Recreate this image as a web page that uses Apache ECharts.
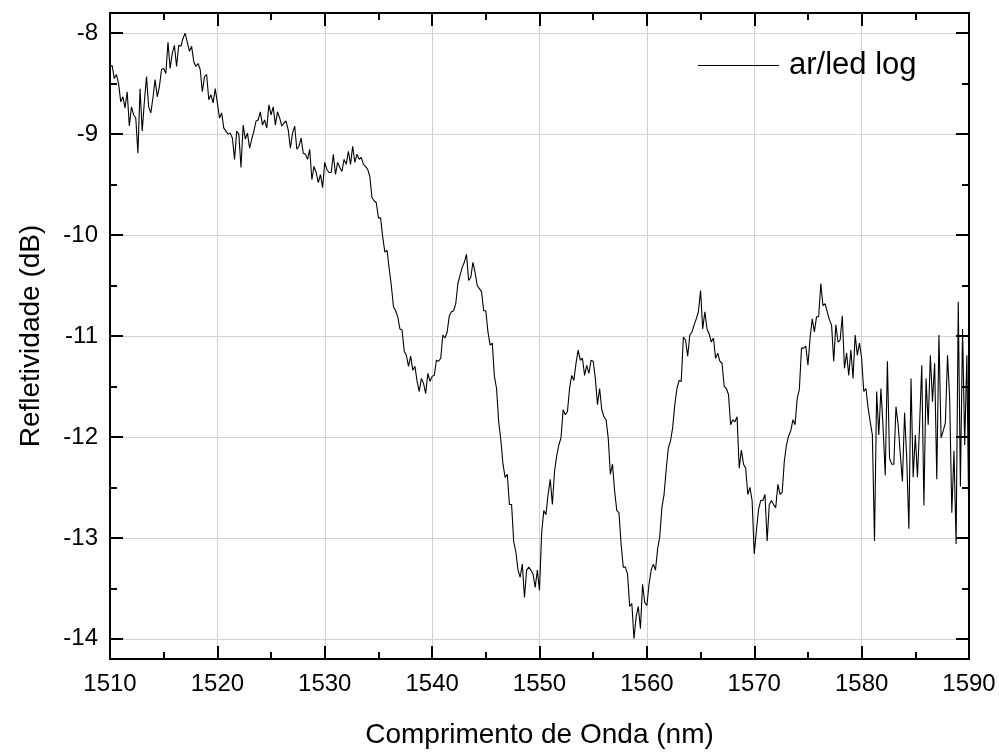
<!DOCTYPE html>
<html><head><meta charset="utf-8">
<script src="https://cdn.jsdelivr.net/npm/echarts@6/dist/echarts.min.js"></script>
<style>html,body{margin:0;padding:0;background:#fff;overflow:hidden}#c{width:999px;height:754px}</style>
</head><body><div id="c"></div>
<script>
const seriesName = 'ar/led log';
const xTitle = 'Comprimento de Onda (nm)';
const yTitle = 'Refletividade (dB)';
const wavelengthStart = 1510;
const wavelengthStep = 0.2;
const xTicks = [1510, 1520, 1530, 1540, 1550, 1560, 1570, 1580, 1590];
const yMajorTicks = [-14, -13, -12, -11, -10, -9, -8];
const yMinorTicks = [-13.5, -12.5, -11.5, -10.5, -9.5, -8.5];

// reflectivity (dB), sampled every 0.2 nm, grouped by 10 nm
const seg1510 = [-8.33,-8.32,-8.45,-8.41,-8.50,-8.68,-8.63,-8.74,-8.58,-8.92,-8.73,-8.81,-8.84,-9.19,-8.55,-8.97,-8.68,-8.43,-8.73,-8.79,-8.64,-8.46,-8.63,-8.53,-8.36,-8.35,-8.40,-8.09,-8.35,-8.20,-8.12,-8.33,-8.12,-8.13,-8.05,-8.00,-8.09,-8.18,-8.13,-8.28,-8.33,-8.30,-8.36,-8.58,-8.43,-8.41,-8.66,-8.61,-8.69,-8.55];
const seg1520 = [-8.69,-8.84,-8.79,-8.94,-8.97,-9.00,-8.99,-9.04,-9.25,-8.97,-9.00,-9.33,-8.91,-9.05,-8.99,-9.14,-9.05,-8.97,-8.87,-8.86,-8.78,-8.91,-8.86,-8.94,-8.71,-8.81,-8.73,-8.91,-8.78,-8.84,-8.92,-8.89,-8.87,-8.96,-9.14,-8.99,-8.92,-9.15,-9.12,-9.04,-9.19,-9.20,-9.25,-9.15,-9.45,-9.32,-9.38,-9.48,-9.40,-9.53];
const seg1530 = [-9.28,-9.35,-9.38,-9.38,-9.20,-9.40,-9.28,-9.33,-9.37,-9.25,-9.30,-9.17,-9.30,-9.12,-9.28,-9.20,-9.25,-9.23,-9.30,-9.32,-9.35,-9.42,-9.63,-9.66,-9.68,-9.83,-9.83,-10.02,-10.17,-10.15,-10.33,-10.50,-10.71,-10.75,-10.81,-10.93,-10.94,-11.15,-11.19,-11.30,-11.20,-11.34,-11.30,-11.45,-11.55,-11.42,-11.47,-11.57,-11.37,-11.45];
const seg1540 = [-11.40,-11.39,-11.24,-11.25,-11.22,-10.99,-11.02,-10.96,-10.80,-10.76,-10.75,-10.68,-10.48,-10.40,-10.32,-10.27,-10.19,-10.45,-10.42,-10.27,-10.37,-10.50,-10.53,-10.56,-10.75,-10.75,-10.96,-11.09,-11.07,-11.40,-11.52,-11.85,-12.03,-12.27,-12.40,-12.37,-12.67,-12.67,-13.04,-13.14,-13.32,-13.39,-13.26,-13.59,-13.32,-13.29,-13.32,-13.36,-13.49,-13.32];
const seg1550 = [-13.52,-12.95,-12.73,-12.77,-12.57,-12.42,-12.67,-12.34,-12.19,-12.08,-12.01,-11.73,-11.78,-11.75,-11.52,-11.39,-11.44,-11.27,-11.14,-11.24,-11.22,-11.39,-11.29,-11.37,-11.24,-11.25,-11.42,-11.68,-11.52,-11.73,-11.80,-11.83,-12.01,-12.37,-12.27,-12.54,-12.73,-12.75,-13.06,-13.29,-13.29,-13.36,-13.68,-13.65,-14.00,-13.78,-13.68,-13.90,-13.46,-13.64];
const seg1560 = [-13.67,-13.46,-13.32,-13.26,-13.32,-13.11,-12.99,-12.70,-12.57,-12.32,-12.11,-12.04,-11.91,-11.68,-11.52,-11.44,-11.45,-11.01,-11.04,-11.20,-10.99,-10.96,-10.89,-10.83,-10.76,-10.55,-10.93,-10.76,-10.93,-10.98,-11.06,-11.02,-11.22,-11.17,-11.25,-11.27,-11.50,-11.52,-11.58,-11.88,-11.83,-11.85,-11.80,-12.31,-12.13,-12.27,-12.31,-12.57,-12.50,-12.63];
const seg1570 = [-13.16,-12.93,-12.72,-12.63,-12.63,-12.57,-13.03,-12.67,-12.63,-12.67,-12.70,-12.47,-12.57,-12.55,-12.24,-12.08,-11.99,-11.94,-11.83,-11.88,-11.62,-11.53,-11.12,-11.12,-11.10,-11.29,-11.02,-10.83,-10.96,-10.81,-10.81,-10.48,-10.70,-10.68,-10.76,-10.84,-10.89,-11.25,-10.89,-11.06,-11.04,-10.80,-11.32,-11.17,-11.39,-11.14,-11.42,-10.99,-11.19,-11.07];
const seg1580 = [-11.22,-11.55,-11.52,-11.71,-11.85,-11.98,-13.03,-11.55,-11.98,-11.52,-11.91,-12.38,-11.25,-12.21,-12.27,-12.27,-11.70,-11.88,-12.17,-12.44,-11.76,-12.21,-12.91,-11.42,-12.40,-11.98,-12.40,-11.88,-11.29,-12.68,-11.42,-11.88,-11.19,-11.65,-11.27,-12.42,-10.99,-12.01,-11.94,-11.86,-11.19,-11.62,-12.75,-12.14,-13.06,-10.66,-12.49,-10.93,-12.08,-11.19,-12.99];

const reflectivity = [].concat(seg1510, seg1520, seg1530, seg1540, seg1550, seg1560, seg1570, seg1580);
const points = reflectivity.map((v, i) => [+(wavelengthStart + i * wavelengthStep).toFixed(2), v]);

const font = '"Liberation Sans", Arial, Helvetica, sans-serif';
const black = '#000';
const gridColor = '#d2d2d2';
const xMin = xTicks[0], xMax = xTicks[xTicks.length - 1];
const yMin = -14.2, yMax = -7.8;

function xAx(pos, main) {
  return {
    type: 'value', position: pos, min: xMin, max: xMax, interval: 10,
    axisLine: { show: true, onZero: false, lineStyle: { color: black, width: 2 } },
    axisTick: { show: true, inside: true, length: 13, lineStyle: { color: black, width: 2 } },
    minorTick: { show: true, splitNumber: 2, length: 7, lineStyle: { color: black, width: 2 } },
    axisLabel: { show: main, color: black, fontSize: 24, fontFamily: font, margin: 13,
                 formatter: v => String(v) },
    splitLine: { show: main, lineStyle: { color: gridColor, width: 1 } },
    name: main ? xTitle : '', nameLocation: 'middle', nameGap: 62,
    nameTextStyle: { fontSize: 28, color: black, fontFamily: font }
  };
}
function yAx(pos, ticks, len, main, showLine) {
  return {
    type: 'value', position: pos, min: yMin, max: yMax,
    axisLine: { show: showLine, onZero: false, lineStyle: { color: black, width: 2 } },
    axisTick: { show: true, inside: true, length: len, customValues: ticks, lineStyle: { color: black, width: 2 } },
    axisLabel: { show: main, customValues: ticks, color: black, fontSize: 24, fontFamily: font, margin: 12,
                 formatter: v => String(v) },
    splitLine: { show: main, lineStyle: { color: gridColor, width: 1 } },
    name: main ? yTitle : '', nameLocation: 'middle', nameGap: 65,
    nameTextStyle: { fontSize: 28, color: black, fontFamily: font }
  };
}

const chart = echarts.init(document.getElementById('c'), null, { renderer: 'canvas' });
chart.setOption({
  animation: false,
  backgroundColor: '#fff',
  grid: { left: 110, right: 30, top: 13, bottom: 92, containLabel: false },
  legend: {
    left: 698, top: 50, padding: 0,
    data: [{ name: seriesName, icon: 'rect' }],
    itemWidth: 81, itemHeight: 1,
    itemStyle: { color: black },
    textStyle: { fontSize: 31, color: black, fontFamily: font, padding: [0, 0, 0, 5] }
  },
  xAxis: [xAx('bottom', true), xAx('top', false)],
  yAxis: [
    yAx('left', yMajorTicks, 13, true, true),
    yAx('left', yMinorTicks, 7, false, false),
    yAx('right', yMajorTicks, 13, false, true),
    yAx('right', yMinorTicks, 7, false, false)
  ],
  series: [{
    name: seriesName, type: 'line', data: points,
    xAxisIndex: 0, yAxisIndex: 0,
    showSymbol: false, symbol: 'none',
    lineStyle: { color: black, width: 1.1 },
    itemStyle: { color: black }
  }]
});
</script></body></html>
